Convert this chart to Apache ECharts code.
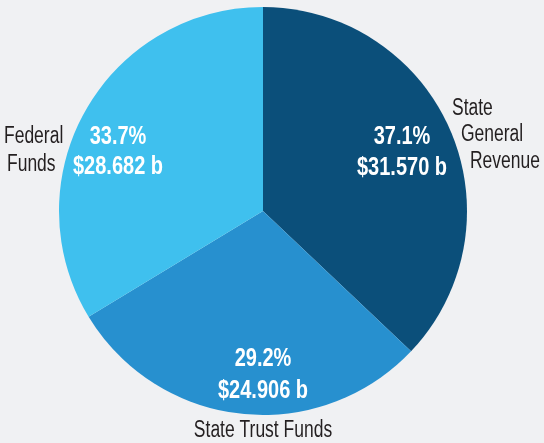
<!DOCTYPE html>
<html>
<head>
<meta charset="utf-8">
<script src="https://cdn.jsdelivr.net/npm/echarts@6/dist/echarts.min.js"></script>
<style>
html,body{margin:0;padding:0;background:#f0f1f3;}
#chart{width:544px;height:443px;}
</style>
</head>
<body>
<div id="chart"></div>
<script>
const names = ['State General Revenue', 'State Trust Funds', 'Federal Funds'];
const values = [31.570, 24.906, 28.682];
const percents = ['37.1%', '29.2%', '33.7%'];
const colors = ['#0b4f7a', '#2790cf', '#3fc0ee'];

const FONT = '"Liberation Sans", Arial, sans-serif';

// name label line breaks and positions (style only)
const nameLines = [['State', 'General', 'Revenue'], ['State Trust Funds'], ['Federal', 'Funds']];
const namePos = [
  [[452, 109, 'left'], [461, 135, 'left'], [470, 162, 'left']],
  [[263, 431, 'center']],
  [[4, 137, 'left'], [7, 165, 'left']]
];
const innerPos = [[402, 137, 168], [263, 359, 391], [118, 137, 167]];

const chart = echarts.init(document.getElementById('chart'));
const pieData = names.map((n, i) => ({name: n, value: values[i], itemStyle: {color: colors[i]}}));

const graphics = [];
names.forEach((n, i) => {
  nameLines[i].forEach((line, k) => {
    const p = namePos[i][k];
    graphics.push({
      type: 'text', x: p[0], y: p[1], scaleX: 0.76, silent: true,
      style: {text: line, font: '23px ' + FONT, fill: '#231f20', align: p[2], verticalAlign: 'middle'}
    });
  });
  const ip = innerPos[i];
  [percents[i], '$' + values[i].toFixed(3) + ' b'].forEach((t, k) => {
    graphics.push({
      type: 'text', x: ip[0], y: ip[1 + k], scaleX: 0.8, silent: true, z: 10,
      style: {text: t, font: 'bold 25px ' + FONT, fill: '#ffffff', align: 'center', verticalAlign: 'middle'}
    });
  });
});

chart.setOption({
  backgroundColor: '#f0f1f3',
  animation: false,
  graphic: graphics,
  series: [
    {
      type: 'pie',
      center: [263, 211],
      radius: [0, 204],
      startAngle: 90,
      clockwise: true,
      silent: true,
      data: pieData,
      itemStyle: {borderWidth: 0},
      label: {show: false},
      labelLine: {show: false}
    }
  ]
});
</script>
</body>
</html>
